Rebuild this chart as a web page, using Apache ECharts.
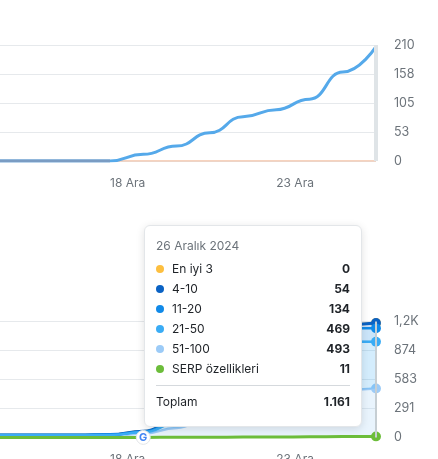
<!DOCTYPE html>
<html>
<head>
<meta charset="utf-8">
<script src="https://cdn.jsdelivr.net/npm/echarts@6/dist/echarts.min.js"></script>
<style>
  html, body { margin: 0; padding: 0; background: #fff; }
  #chart { width: 438px; height: 459px; }
</style>
</head>
<body>
<div id="chart"></div>
<script>
// gün (Aralık)
const days = [14, 15, 16, 17, 18, 19, 20, 21, 22, 23, 24, 25, 26]
const dayLabels = [18, 23]
const tooltipDate = '26 Aralık 2024'

// üst grafik
const organicTraffic = [0, 0, 0, 0, 0, 12, 27, 51, 80, 93, 112, 161, 207]
const paidTraffic = [0, 0, 0, 0, 0, 0, 0, 0, 0, 0, 0, 0, 0]
const noDataTraffic = [0, 0, 0, 0, 0, null, null, null, null, null, null, null, null]
const topTicks = ['0', '53', '105', '158', '210']

// alt grafik (pozisyonlar)
const top3 = [0, 0, 0, 0, 0, 0, 0, 0, 0, 0, 0, 0, 0]
const pos4to10 = [0, 0, 0, 0, 1, 3, 10, 22, 30, 36, 42, 34, 54]
const pos11to20 = [0, 0, 0, 0, 4, 6, 20, 45, 70, 90, 110, 135, 134]
const pos21to50 = [11, 11, 11, 11, 10, 15, 45, 140, 230, 300, 370, 485, 469]
const pos51to100 = [13, 13, 13, 13, 15, 38, 95, 200, 260, 320, 390, 478, 493]
const serpFeatures = [0, 0, 0, 0, 0, 1, 2, 3, 4, 5, 7, 9, 11]
const bottomTicks = ['0', '291', '583', '874', '1,2K']
const googleUpdateDay = 19

const last = days.length - 1
const font = 'Inter, "Noto Sans", sans-serif'

// tooltip sırası
const tipRows = [
  { name: 'En iyi 3', color: '#fdbf3f', data: top3 },
  { name: '4-10', color: '#0a62c4', data: pos4to10 },
  { name: '11-20', color: '#118ae8', data: pos11to20 },
  { name: '21-50', color: '#3aacf5', data: pos21to50 },
  { name: '51-100', color: '#9ccbf7', data: pos51to100 },
  { name: 'SERP özellikleri', color: '#6cbd3a', data: serpFeatures }
]

function fmtNum(n) {
  return String(n).replace(/\B(?=(\d{3})+(?!\d))/g, '.')
}

const chart = echarts.init(document.getElementById('chart'))

const xAxisBase = (gridIndex, pointerStyle) => ({
  type: 'category',
  gridIndex: gridIndex,
  data: days,
  boundaryGap: false,
  axisLine: { show: false },
  axisTick: { show: false },
  splitLine: { show: false },
  axisLabel: {
    interval: (i, v) => dayLabels.includes(Number(v)),
    formatter: v => v + ' Ara',
    color: '#6c737a',
    fontFamily: font,
    fontSize: 12,
    align: 'left',
    margin: 16
  },
  axisPointer: {
    snap: true,
    label: { show: false },
    lineStyle: pointerStyle
  }
})

const yAxisBase = (gridIndex, max, ticks) => ({
  type: 'value',
  gridIndex: gridIndex,
  position: 'right',
  min: 0,
  max: max,
  interval: max / 4,
  axisLine: { show: false },
  axisTick: { show: false },
  splitLine: { lineStyle: { color: '#e6e9ec', width: 1 } },
  axisLabel: {
    formatter: (v, i) => ticks[i],
    color: '#6c737a',
    fontFamily: font,
    fontSize: 12.5,
    margin: 18
  }
})

const endDot = (v, p) => p.dataIndex === last ? 9 : 0

const rankSeries = (name, color, data, z, width) => ({
  name: name,
  type: 'line',
  xAxisIndex: 1,
  yAxisIndex: 1,
  stack: 'rank',
  data: data,
  smooth: true,
  smoothMonotone: 'x',
  showSymbol: true,
  symbol: 'circle',
  symbolSize: endDot,
  clip: false,
  z: z,
  lineStyle: { color: color, width: width || 2.5 },
  itemStyle: { color: color },
  areaStyle: { color: color, opacity: 0.22 },
  emphasis: { disabled: true }
})

const topLine = (name, data, color, width, smooth) => ({
  name: name,
  type: 'line',
  data: data,
  smooth: smooth,
  smoothMonotone: 'x',
  symbol: 'none',
  showSymbol: false,
  lineStyle: { color: color, width: width },
  itemStyle: { color: color },
  emphasis: { disabled: true }
})

const option = {
  animation: false,
  textStyle: { fontFamily: font },
  axisPointer: { link: [{ xAxisIndex: 'all' }] },
  grid: [
    { left: -23, right: 62, top: 45, height: 116, outerBoundsMode: 'none', containLabel: false },
    { left: -23, right: 62, top: 321.5, height: 116, outerBoundsMode: 'none', containLabel: false }
  ],
  xAxis: [
    xAxisBase(0, { color: '#dfe4e7', width: 4, type: 'solid' }),
    xAxisBase(1, { color: '#c6ced3', width: 2, type: 'solid' })
  ],
  yAxis: [
    yAxisBase(0, 210, topTicks),
    yAxisBase(1, 1165, bottomTicks)
  ],
  tooltip: {
    trigger: 'axis',
    triggerOn: 'none',
    alwaysShowContent: true,
    transitionDuration: 0,
    axisPointer: { type: 'line' },
    position: [144, 225],
    padding: 0,
    backgroundColor: '#fff',
    borderColor: '#e3e6e9',
    borderWidth: 1,
    extraCssText: 'border-radius:6px;box-shadow:0 2px 8px rgba(0,0,0,0.12);width:218px;box-sizing:border-box;',
    formatter: function () {
      let total = 0
      const rows = tipRows.map(r => {
        total += r.data[last]
        return '<div style="display:flex;align-items:center;height:20px;">' +
          '<span style="display:inline-block;width:8px;height:8px;border-radius:50%;background:' + r.color + ';margin-right:8px;"></span>' +
          '<span style="flex:1;">' + r.name + '</span>' +
          '<span style="font-weight:700;">' + fmtNum(r.data[last]) + '</span></div>'
      }).join('')
      return '<div style="padding:11px 11px 14px 11px;font-family:' + font.replace(/"/g, "'") + ';font-size:12px;line-height:20px;color:#1f2328;">' +
        '<div style="color:#6c737a;line-height:18px;margin-bottom:4px;">' + tooltipDate + '</div>' +
        rows +
        '<div style="border-top:1px solid #d5d9dd;margin-top:6px;"></div>' +
        '<div style="display:flex;height:20px;margin-top:6px;"><span style="flex:1;">Toplam</span>' +
        '<span style="font-weight:700;">' + fmtNum(total) + '</span></div>' +
        '</div>'
    }
  },
  series: [
    topLine('Ücretli trafik', paidTraffic, '#f3c5ab', 1.5, false),
    topLine('Organik trafik', organicTraffic, '#55a9ea', 3, true),
    topLine('Veri yok', noDataTraffic, '#7a9cc3', 3, false),
    rankSeries('51-100', '#9ccbf7', pos51to100, 3),
    rankSeries('21-50', '#3aacf5', pos21to50, 6),
    rankSeries('11-20', '#118ae8', pos11to20, 5),
    rankSeries('4-10', '#0a62c4', pos4to10, 4, 3),
    rankSeries('En iyi 3', '#fdbf3f', top3, 2),
    {
      name: 'SERP özellikleri',
      type: 'line',
      xAxisIndex: 1,
      yAxisIndex: 1,
      data: serpFeatures,
      smooth: true,
      smoothMonotone: 'x',
      showSymbol: true,
      symbol: 'circle',
      symbolSize: endDot,
      clip: false,
      z: 7,
      lineStyle: { color: '#6cbd3a', width: 3 },
      itemStyle: { color: '#6cbd3a' },
      emphasis: { disabled: true },
      markPoint: {
        z: 10,
        symbol: 'circle',
        symbolSize: 14,
        itemStyle: { color: '#fff', borderColor: '#e2e5e8', borderWidth: 1 },
        label: { show: true, formatter: 'G', color: '#4285f4', fontWeight: 'bold', fontSize: 11, fontFamily: font },
        data: [{ coord: [days.indexOf(googleUpdateDay), serpFeatures[days.indexOf(googleUpdateDay)]] }]
      }
    }
  ]
}

chart.setOption(option)
chart.dispatchAction({ type: 'showTip', seriesIndex: 6, dataIndex: last })
</script>
</body>
</html>
